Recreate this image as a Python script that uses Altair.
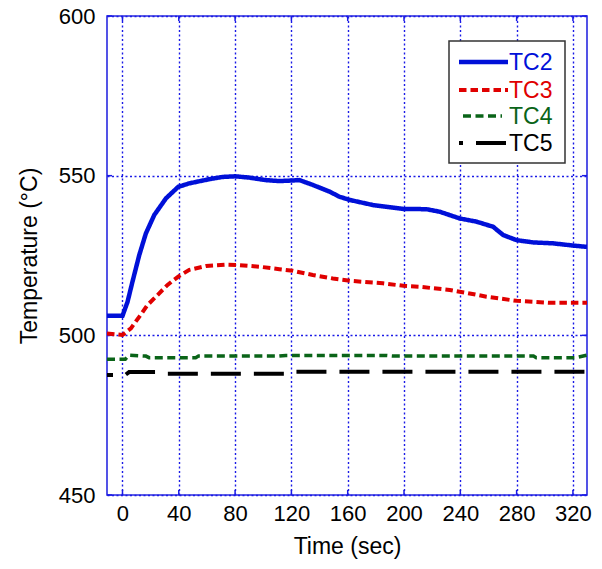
import altair as alt
import pandas as pd

# ---- data ----
tc2_t = [-11, 0, 3.6, 7.1, 11.9, 16.6, 22.6, 30.9, 39.6, 47.5, 61.7, 71.2, 80, 90, 102, 111.5,
         125.8, 135.2, 147.1, 154.2, 161.4, 177.9, 199.3, 215.9, 225.4, 239.6, 251.5, 263.3,
         270.5, 280, 291.8, 306, 320.3, 330]
tc2_v = [506.1, 506.1, 510.5, 516.8, 525.1, 531.9, 537.7, 542.9, 546.5, 547.6, 548.9, 549.6,
         549.8, 549.4, 548.6, 548.3, 548.6, 547.1, 545.0, 543.4, 542.4, 540.8, 539.6, 539.5,
         538.7, 536.6, 535.6, 534.0, 531.4, 529.8, 529.1, 528.8, 528.1, 527.7]

tc3_t = [-11, 0, 6, 11.9, 17.8, 24.9, 32, 39.6, 47.5, 59.4, 73.6, 83, 97.3, 111.5, 121, 135.2,
         149.5, 163.7, 185, 199.6, 211.2, 232.5, 244.4, 258.6, 280, 303.7, 330]
tc3_v = [500.6, 500.1, 502.2, 505.8, 509.5, 512.6, 515.8, 518.4, 520.5, 521.7, 522.1, 522.0,
         521.5, 520.7, 520.2, 518.9, 517.8, 517.0, 516.3, 515.5, 515.2, 514.2, 513.3, 512.1,
         510.8, 510.2, 510.2]

tc4_t = [-11, 2, 4.7, 16.6, 18.9, 52, 54, 111, 116, 187, 192, 292, 294, 322, 330]
tc4_v = [492.5, 492.5, 493.8, 493.5, 493.0, 493.0, 493.5, 493.5, 493.7, 493.7, 493.5, 493.5,
         493.0, 493.0, 493.8]

tc5_t = [-11, 2, 4.7, 25, 30, 115, 118, 330]
tc5_v = [487.6, 487.6, 488.5, 488.5, 488.0, 488.0, 488.6, 488.6]

series_names = ["TC2", "TC3", "TC4", "TC5"]
x_ticks = [0, 40, 80, 120, 160, 200, 240, 280, 320]
y_ticks = [450, 500, 550, 600]

# ---- styles ----
colors = {"TC2": "#0010d8", "TC3": "#e00000", "TC4": "#0a6418", "TC5": "#000000"}
dashes = {"TC2": [1, 0], "TC3": [7.5, 4], "TC4": [8, 4.5], "TC5": [30, 13]}
widths = {"TC2": 4.5, "TC3": 4, "TC4": 3.5, "TC5": 4}
offsets = {"TC2": 0, "TC3": 0, "TC4": 0, "TC5": 24}
FONT = "Liberation Sans"
GRID = "#1a1ae6"
W, H = 480, 479

data = {"TC2": (tc2_t, tc2_v), "TC3": (tc3_t, tc3_v), "TC4": (tc4_t, tc4_v), "TC5": (tc5_t, tc5_v)}

xscale = alt.Scale(domain=[-11, 330], nice=False, zero=False)
yscale = alt.Scale(domain=[450, 600], nice=False, zero=False)

xaxis = alt.Axis(values=x_ticks, title="Time (sec)", grid=True, gridColor=GRID,
                 gridDash=[2, 2.5], gridWidth=1.4, gridOpacity=1, domain=False, ticks=False,
                 labelFont=FONT, labelFontSize=22, labelColor="black", labelPadding=8,
                 titleFont=FONT, titleFontSize=23, titleFontWeight="normal", titleColor="black",
                 titlePadding=11, labelFlush=False)
yaxis = alt.Axis(values=y_ticks, title="Temperature (°C)", grid=True, gridColor=GRID,
                 gridDash=[2, 2.5], gridWidth=1.4, gridOpacity=1, domain=False, ticks=False,
                 labelFont=FONT, labelFontSize=22, labelColor="black", labelPadding=12,
                 titleFont=FONT, titleFontSize=23, titleFontWeight="normal", titleColor="black",
                 titlePadding=17, labelFlush=False)

rows = []
for name in series_names:
    t, v = data[name]
    for k, (tt, vv) in enumerate(zip(t, v)):
        rows.append({"series": name, "t": tt, "v": vv, "o": k})
all_df = pd.DataFrame(rows)

base = alt.Chart(all_df).encode(
    x=alt.X("t:Q", scale=xscale, axis=xaxis),
    y=alt.Y("v:Q", scale=yscale, axis=yaxis),
    order="o:Q",
)

layers = []

# inner tick marks (MATLAB style) on all four sides
xt = pd.DataFrame({"t": x_ticks})
yt = pd.DataFrame({"v": y_ticks})
tick_style = dict(color=GRID, strokeWidth=1.5)
layers.append(alt.Chart(xt).mark_rule(**tick_style).encode(
    x=alt.X("t:Q", scale=xscale, axis=xaxis), y=alt.value(H), y2=alt.value(H - 5)))
layers.append(alt.Chart(xt).mark_rule(**tick_style).encode(
    x=alt.X("t:Q", scale=xscale, axis=xaxis), y=alt.value(0), y2=alt.value(5)))
layers.append(alt.Chart(yt).mark_rule(**tick_style).encode(
    y=alt.Y("v:Q", scale=yscale, axis=yaxis), x=alt.value(0), x2=alt.value(5)))
layers.append(alt.Chart(yt).mark_rule(**tick_style).encode(
    y=alt.Y("v:Q", scale=yscale, axis=yaxis), x=alt.value(W), x2=alt.value(W - 5)))

for name in series_names:
    layers.append(
        base.transform_filter(alt.datum.series == name).mark_line(
            color=colors[name], strokeWidth=widths[name],
            strokeDash=dashes[name], strokeDashOffset=offsets[name], clip=True)
    )

# ---- legend box (manual, to colour labels per series) ----
leg_box = alt.Chart(pd.DataFrame({"a": [0]})).mark_rect(
    fill="white", stroke="#333333", strokeWidth=1.5
).encode(x=alt.value(342), x2=alt.value(458), y=alt.value(25), y2=alt.value(147))
layers.append(leg_box)

row_y = [46, 74, 100, 127]
for i, name in enumerate(series_names):
    d = pd.DataFrame({"label": [name]})
    x0, x1 = (352, 401) if name != "TC4" else (356, 395)
    layers.append(
        alt.Chart(d).mark_rule(color=colors[name], strokeWidth=widths[name],
                               strokeDash=dashes[name],
                               strokeDashOffset=(26 if name == "TC5" else 0)).encode(
            x=alt.value(x0), x2=alt.value(x1), y=alt.value(row_y[i]))
    )
    layers.append(
        alt.Chart(d).mark_text(align="left", baseline="middle", font=FONT, fontSize=23,
                               color=colors[name]).encode(
            x=alt.value(402), y=alt.value(row_y[i] + 1), text="label:N")
    )

chart = alt.layer(*layers).properties(
    width=W, height=H,
    autosize=alt.AutoSizeParams(type="none"),
    padding={"left": 99, "top": 8, "right": 7, "bottom": 66},
    background="white",
).configure_view(stroke="#2a2ae0", strokeWidth=1.6)

chart.save("out.html", embed_options={"renderer": "svg", "actions": False})
